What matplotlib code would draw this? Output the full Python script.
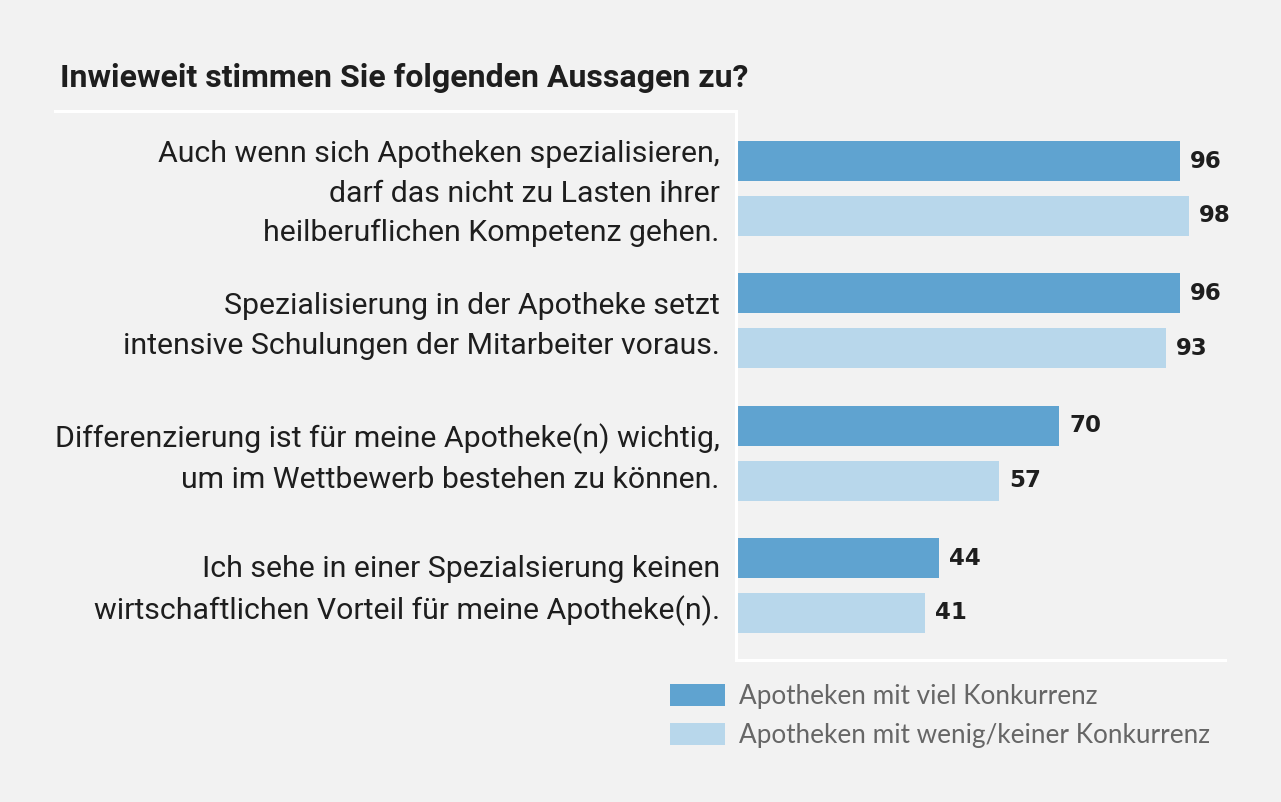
import matplotlib
matplotlib.use('Agg')
import matplotlib.pyplot as plt
from matplotlib.patches import Patch
from matplotlib.lines import Line2D
import matplotlib.transforms as mtransforms

statements = [
    'Auch wenn sich Apotheken spezialisieren,\ndarf das nicht zu Lasten ihrer\nheilberuflichen Kompetenz gehen.',
    'Spezialisierung in der Apotheke setzt\nintensive Schulungen der Mitarbeiter voraus.',
    'Differenzierung ist für meine Apotheke(n) wichtig,\num im Wettbewerb bestehen zu können.',
    'Ich sehe in einer Spezialsierung keinen\nwirtschaftlichen Vorteil für meine Apotheke(n).',
]
viel = [96, 96, 70, 44]
wenig = [98, 93, 57, 41]
series_names = ['Apotheken mit viel Konkurrenz', 'Apotheken mit wenig/keiner Konkurrenz']
title = 'Inwieweit stimmen Sie folgenden Aussagen zu?'

bg = '#f2f2f2'
c_dark = '#5fa3d0'
c_light = '#b8d7eb'
txt = '#1e1e1e'
label_font = ['Roboto', 'DejaVu Sans']

W, H = 1281, 802
fig = plt.figure(figsize=(W / 100, H / 100), dpi=100, facecolor=bg)
ax = fig.add_axes([735.5 / W, 1 - 660 / H, (1225 - 735.5) / W, (660 - 111) / H])
ax.set_facecolor(bg)

pos = list(range(len(statements)))
off = 0.207
bh = 0.302
ax.barh([p - off for p in pos], viel, height=bh, color=c_dark, zorder=1)
ax.barh([p + off for p in pos], wenig, height=bh, color=c_light, zorder=1)

ax.set_xlim(0, 105.8)
ax.set_ylim(3.563, -0.586)

for p, v in zip(pos, viel):
    ax.annotate(str(v), (v, p - off), xytext=(7, 0), textcoords='offset points',
                ha='left', va='center', fontsize=16.5, fontweight='bold',
                color=txt, family='DejaVu Sans')
for p, v in zip(pos, wenig):
    ax.annotate(str(v), (v, p + off), xytext=(7, 0), textcoords='offset points',
                ha='left', va='center', fontsize=16.5, fontweight='bold',
                color=txt, family='DejaVu Sans')

trans = mtransforms.blended_transform_factory(ax.transAxes, ax.transData)
for p, s in zip(pos, statements):
    ax.text(-0.032, p + 0.04, s, transform=trans, ha='right', va='center',
            multialignment='right', fontsize=21.8, color=txt, family=label_font,
            linespacing=1.52)

for side in ['top', 'right']:
    ax.spines[side].set_visible(False)
for side in ['left', 'bottom']:
    ax.spines[side].set_color('white')
    ax.spines[side].set_linewidth(2.2)
ax.set_xticks([])
ax.set_yticks([])

# top frame line running left from the axis
fig.add_artist(Line2D([55 / W, 735.5 / W], [1 - 111 / H, 1 - 111 / H],
                      color='white', linewidth=2.2, transform=fig.transFigure))

fig.text(60 / W, 1 - 78 / H, title, ha='left', va='center', fontsize=23,
         fontweight='bold', color=txt, family=label_font)

handles = [Patch(facecolor=c_dark, edgecolor='none'),
           Patch(facecolor=c_light, edgecolor='none')]
fig.legend(handles, series_names, loc='upper left',
           bbox_to_anchor=(670 / W, 1 - 684 / H), frameon=False,
           handlelength=2.1, handleheight=0.9,
           handletextpad=0.55, labelspacing=0.54, borderpad=0, borderaxespad=0,
           labelcolor='#666666', prop={'family': 'Lato', 'size': 18.8})

fig.savefig('out.png', dpi=100, facecolor=bg)
